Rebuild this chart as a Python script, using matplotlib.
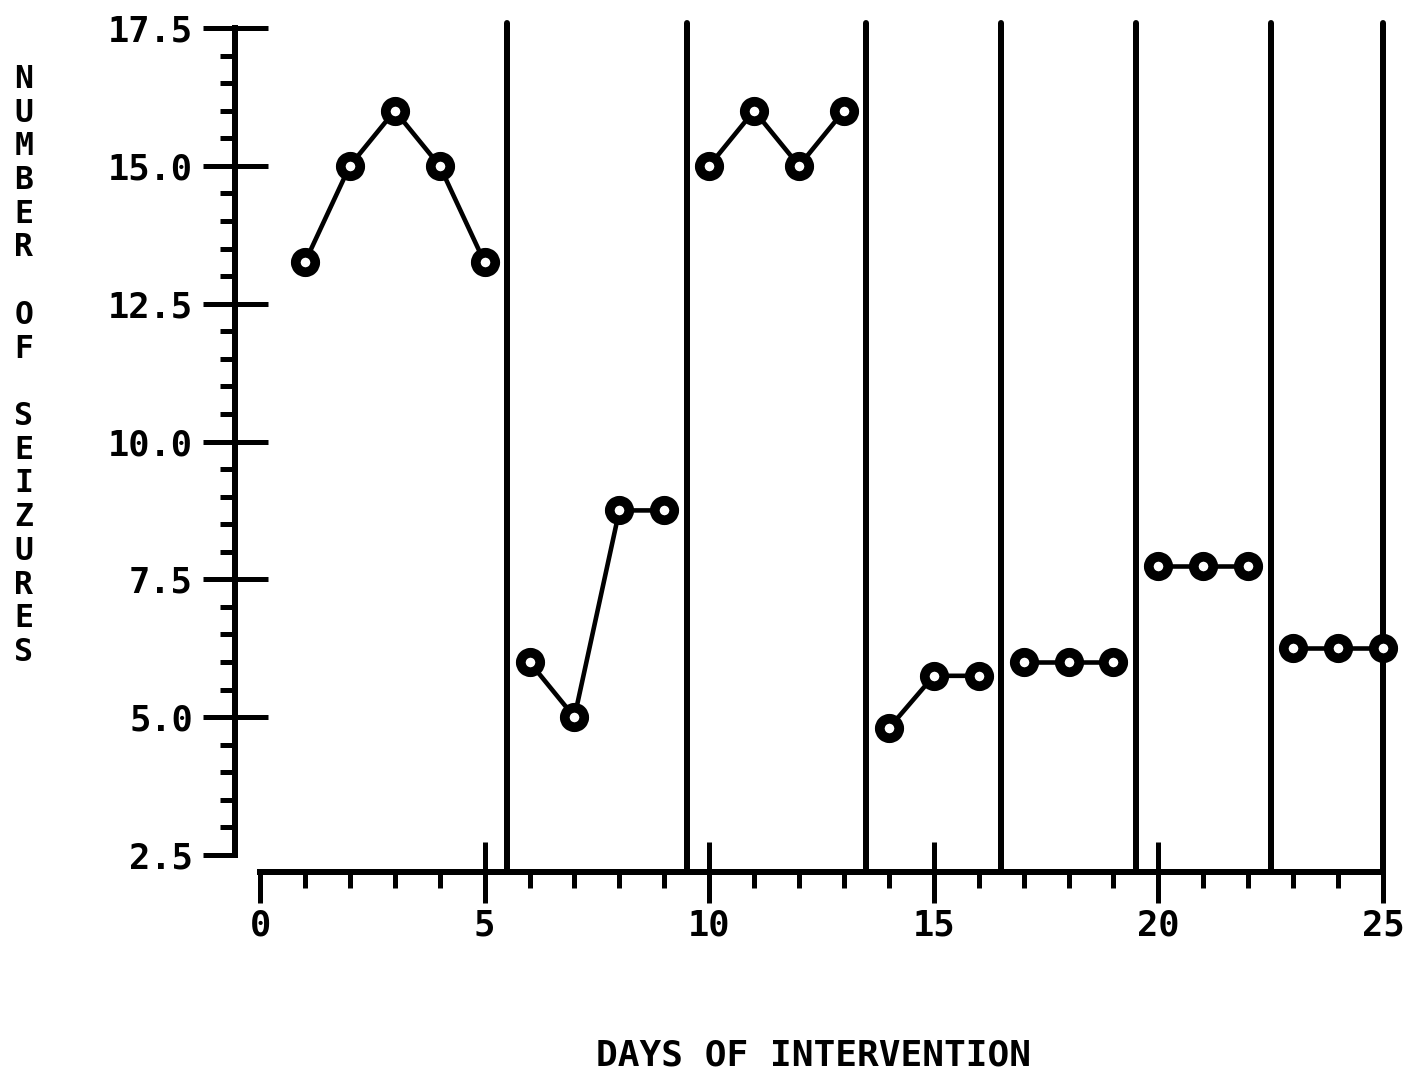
# -*- coding: utf-8 -*-
"""
Gráfico de crises por dia de intervenção, separado por fases
"""

import matplotlib
matplotlib.use('Agg')
import matplotlib.pyplot as plt
import matplotlib.lines as mlines
from matplotlib.ticker import MultipleLocator

# Dias de cada fase e número de crises registrado
fases_dias = [
    [1, 2, 3, 4, 5],
    [6, 7, 8, 9],
    [10, 11, 12, 13],
    [14, 15, 16],
    [17, 18, 19],
    [20, 21, 22],
    [23, 24, 25],
]
fases_crises = [
    [13.25, 15.0, 16.0, 15.0, 13.25],
    [6.0, 5.0, 8.75, 8.75],
    [15.0, 16.0, 15.0, 16.0],
    [4.8, 5.75, 5.75],
    [6.0, 6.0, 6.0],
    [7.75, 7.75, 7.75],
    [6.25, 6.25, 6.25],
]

# Linhas verticais que separam as fases
divisorias = [5.5, 9.5, 13.5, 16.5, 19.5, 22.5, 25]

y_ticks = [2.5, 5.0, 7.5, 10.0, 12.5, 15.0, 17.5]
y_labels = ['2.5', '5.0', '7.5', '10.0', '12.5', '15.0', '17.5']
x_ticks = [0, 5, 10, 15, 20, 25]
x_labels = ['0', '5', '10', '15', '20', '25']

titulo_y = 'NUMBER OF SEIZURES'
titulo_x = 'DAYS OF INTERVENTION'

W, H = 1408, 1074
PX = 72 / 100  # pontos por pixel em dpi 100


def configurar_fonte():
    plt.rcParams['font.family'] = 'DejaVu Sans Mono'
    plt.rcParams['font.weight'] = 'bold'


def montar_eixos(fig):
    """Eixos no estilo de plotter antigo: eixo y deslocado, ticks cruzando"""
    por_unidade = 827 / 15.0
    y_min = 2.5 - 17 / por_unidade
    y_max = 17.5 + 5 / por_unidade

    ax = fig.add_axes([260 / W, (H - 872) / H, 1123 / W, (872 - 23) / H])
    ax.set_xlim(0, 25)
    ax.set_ylim(y_min, y_max)

    for lado in ['top', 'right']:
        ax.spines[lado].set_visible(False)
    ax.spines['left'].set_position(('outward', 25 * PX))
    ax.spines['left'].set_bounds(2.5, 17.5)
    ax.spines['left'].set_linewidth(6 * PX)
    ax.spines['bottom'].set_bounds(0, 25)
    ax.spines['bottom'].set_linewidth(6 * PX)

    ax.set_xticks(x_ticks, x_labels)
    ax.set_yticks(y_ticks, y_labels)
    ax.xaxis.set_minor_locator(MultipleLocator(1))
    ax.yaxis.set_minor_locator(MultipleLocator(0.5))

    ax.tick_params(axis='x', which='major', direction='inout', length=61 * PX,
                   width=5 * PX, pad=4, labelsize=25.5)
    ax.tick_params(axis='x', which='minor', direction='out', length=16 * PX,
                   width=5 * PX)
    ax.tick_params(axis='y', which='major', direction='inout', length=65 * PX,
                   width=5 * PX, pad=7, labelsize=25.5)
    ax.tick_params(axis='y', which='minor', direction='out', length=15 * PX,
                   width=5 * PX)

    # ticks das pontas só para fora
    xt = ax.xaxis.get_major_ticks()
    for t in (xt[0], xt[-1]):
        t.tick1line.set_marker(mlines.TICKDOWN)
        t.tick1line.set_markersize(31 * PX)
    yt = ax.yaxis.get_major_ticks()
    yt[0].tick1line.set_marker(mlines.TICKLEFT)
    yt[0].tick1line.set_markersize(32 * PX)
    return ax


def desenhar(ax):
    for x in divisorias:
        ax.axvline(x, color='black', lw=6 * PX, solid_capstyle='round',
                   clip_on=False)

    for dias, crises in zip(fases_dias, fases_crises):
        ax.plot(dias, crises, '-o', color='black', lw=3.3, ms=14, mew=7,
                mfc='white', mec='black', clip_on=False, zorder=3)


def titulos(fig):
    # título do eixo y com letras empilhadas
    for i, letra in enumerate(titulo_y):
        fig.text(24 / W, 1 - (88 + 33.7 * i) / H, letra, ha='center',
                 va='baseline', fontsize=22.7)
    fig.text(813 / W, 1 - 1065 / H, titulo_x, ha='center', va='baseline',
             fontsize=26)


def main():
    configurar_fonte()
    fig = plt.figure(figsize=(W / 100, H / 100), dpi=100)
    ax = montar_eixos(fig)
    desenhar(ax)
    titulos(fig)
    fig.savefig('out.png', dpi=100)


if __name__ == "__main__":
    main()
